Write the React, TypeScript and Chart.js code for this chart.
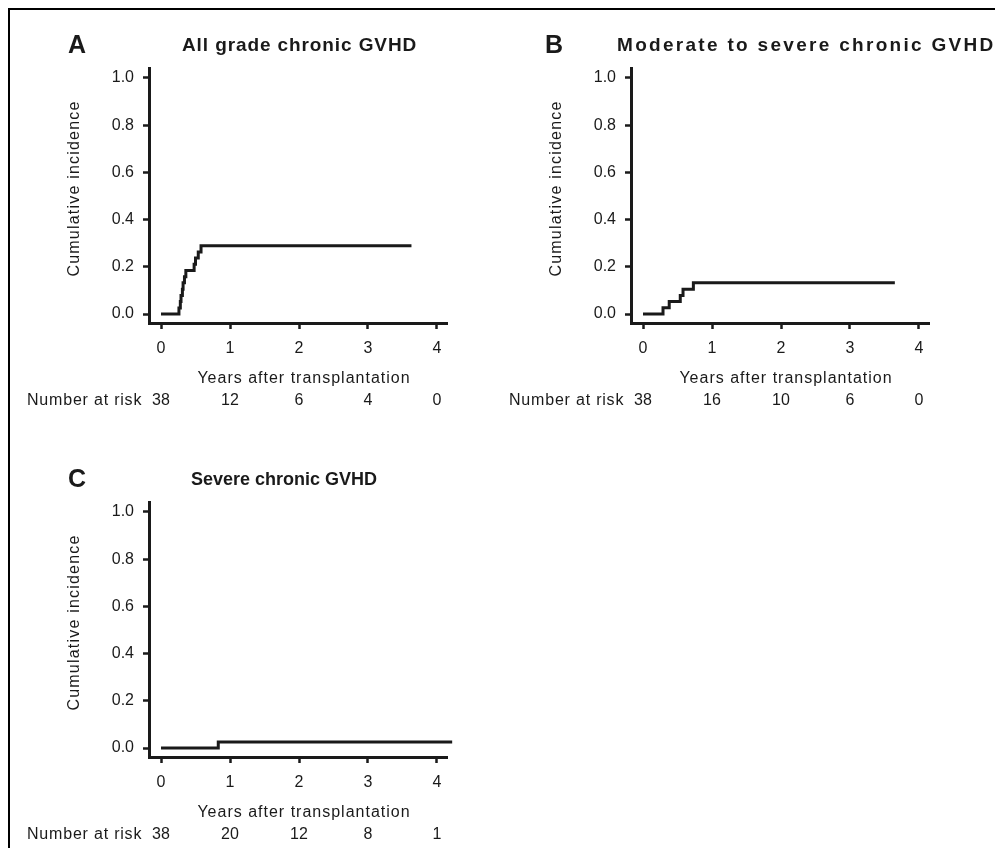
import { useEffect, useRef } from 'react';
import { Chart, registerables } from 'chart.js';

Chart.register(...registerables);

const X_TICKS = [0, 1, 2, 3, 4];
const Y_TICKS = [0, 0.2, 0.4, 0.6, 0.8, 1.0];
const AT_RISK_LABEL = 'Number at risk';
const X_TITLE = 'Years after transplantation';
const Y_TITLE = 'Cumulative incidence';

const A_TIMES = [0, 0.26, 0.28, 0.29, 0.31, 0.32, 0.34, 0.36, 0.48, 0.5, 0.54, 0.58, 3.63];
const A_INCIDENCE = [0, 0.026, 0.053, 0.079, 0.105, 0.132, 0.158, 0.184, 0.211, 0.237, 0.263, 0.289, 0.289];
const A_AT_RISK = [38, 12, 6, 4, 0];

const B_TIMES = [0, 0.29, 0.38, 0.54, 0.58, 0.73, 3.65];
const B_INCIDENCE = [0, 0.027, 0.053, 0.079, 0.105, 0.132, 0.132];
const B_AT_RISK = [38, 16, 10, 6, 0];

const C_TIMES = [0, 0.83, 4.22];
const C_INCIDENCE = [0, 0.026, 0.026];
const C_AT_RISK = [38, 20, 12, 8, 1];

const FONT = "'Liberation Sans', Arial, Helvetica, sans-serif";
const INK = '#1a1a1a';

type PanelSpec = {
  letter: string;
  title: string;
  times: number[];
  incidence: number[];
  atRisk: number[];
  letterX: number;
  titleX: number;
  titleSize: number;
  titleSpacing: number;
};

const PANELS: { spec: PanelSpec; left: number; top: number; width: number }[] = [
  {
    spec: { letter: 'A', title: 'All grade chronic GVHD', times: A_TIMES, incidence: A_INCIDENCE, atRisk: A_AT_RISK, letterX: 58, titleX: 172, titleSize: 19, titleSpacing: 0.9 },
    left: 0,
    top: 0,
    width: 480,
  },
  {
    spec: { letter: 'B', title: 'Moderate to severe chronic GVHD', times: B_TIMES, incidence: B_INCIDENCE, atRisk: B_AT_RISK, letterX: 53, titleX: 125, titleSize: 19, titleSpacing: 2.3 },
    left: 482,
    top: 0,
    width: 509,
  },
  {
    spec: { letter: 'C', title: 'Severe chronic GVHD', times: C_TIMES, incidence: C_INCIDENCE, atRisk: C_AT_RISK, letterX: 58, titleX: 181, titleSize: 18, titleSpacing: 0 },
    left: 0,
    top: 434,
    width: 480,
  },
];

const PLOT_RIGHT = 437;
const CANVAS_H = 404;

function Panel({ spec, left, top, width }: { spec: PanelSpec; left: number; top: number; width: number }) {
  const ref = useRef<HTMLCanvasElement>(null);
  useEffect(() => {
    const canvas = ref.current;
    if (!canvas) return;
    const overlay = {
      id: 'overlay',
      afterDraw(chart: any) {
        const ctx = chart.ctx as CanvasRenderingContext2D & { letterSpacing?: string };
        const xs = chart.scales.x;
        ctx.save();
        ctx.fillStyle = INK;
        ctx.textBaseline = 'middle';
        ctx.textAlign = 'left';
        ctx.font = `bold 25px ${FONT}`;
        ctx.letterSpacing = '0px';
        ctx.fillText(spec.letter, spec.letterX, 36);
        ctx.font = `bold ${spec.titleSize}px ${FONT}`;
        ctx.letterSpacing = `${spec.titleSpacing}px`;
        ctx.fillText(spec.title, spec.titleX, 36);

        // y axis title
        ctx.font = `16px ${FONT}`;
        ctx.letterSpacing = '1.2px';
        ctx.save();
        ctx.translate(65, 178.5);
        ctx.rotate(-Math.PI / 2);
        ctx.textAlign = 'center';
        ctx.fillText(Y_TITLE, 0, 0);
        ctx.restore();

        // x axis title
        ctx.textAlign = 'center';
        ctx.letterSpacing = '1px';
        ctx.fillText(X_TITLE, 294, 369);

        // number at risk
        ctx.textAlign = 'left';
        ctx.letterSpacing = '0.8px';
        ctx.fillText(AT_RISK_LABEL, 17, 391);
        ctx.letterSpacing = '0px';
        ctx.textAlign = 'center';
        spec.atRisk.forEach((n, i) => {
          ctx.fillText(String(n), xs.getPixelForValue(X_TICKS[i]), 391);
        });
        ctx.restore();
      },
    };
    const axisCommon = {
      type: 'linear' as const,
      grid: { drawOnChartArea: false, drawTicks: true, tickLength: 6, tickWidth: 2.5, tickColor: INK },
      border: { display: true, color: INK, width: 3 },
    };
    const chart = new Chart(canvas, {
      type: 'line',
      data: {
        datasets: [
          {
            data: spec.times.map((t, i) => ({ x: t, y: spec.incidence[i] })),
            borderColor: INK,
            borderWidth: 3,
            pointRadius: 0,
            stepped: 'before',
            fill: false,
            clip: false as any,
            borderCapStyle: 'butt',
            borderJoinStyle: 'miter',
          },
        ],
      },
      options: {
        responsive: false,
        animation: false,
        devicePixelRatio: 1,
        layout: { padding: { left: 50, top: 58, right: width - PLOT_RIGHT, bottom: CANVAS_H - 313 - 70 } },
        plugins: { legend: { display: false }, tooltip: { enabled: false }, title: { display: false } },
        scales: {
          x: {
            ...axisCommon,
            min: -0.174,
            max: 4.145,
            afterBuildTicks: (s: any) => {
              s.ticks = X_TICKS.map((v) => ({ value: v }));
            },
            afterFit: (s: any) => {
              s.height = 70;
            },
            ticks: {
              padding: 10,
              color: INK,
              font: { size: 16, family: FONT },
              autoSkip: false,
              maxRotation: 0,
              callback: (v: any) => String(v),
            },
          },
          y: {
            ...axisCommon,
            min: -0.038,
            max: 1.042,
            afterBuildTicks: (s: any) => {
              s.ticks = Y_TICKS.map((v) => ({ value: v }));
            },
            afterFit: (s: any) => {
              s.width = 89;
            },
            ticks: {
              padding: 9,
              color: INK,
              font: { size: 16, family: FONT },
              autoSkip: false,
              callback: (v: any) => Number(v).toFixed(1),
            },
          },
        },
      } as any,
      plugins: [overlay],
    });
    return () => chart.destroy();
  }, [spec, width]);
  return (
    <canvas
      ref={ref}
      width={width}
      height={CANVAS_H}
      style={{ position: 'absolute', left, top, width, height: CANVAS_H }}
    />
  );
}

export default function App() {
  return (
    <div
      style={{
        position: 'relative',
        width: 991,
        height: 838,
        borderTop: '2px solid #000',
        borderLeft: '2px solid #000',
        overflow: 'hidden',
        background: '#fff',
      }}
    >
      {PANELS.map((p) => (
        <Panel key={p.spec.letter} spec={p.spec} left={p.left} top={p.top} width={p.width} />
      ))}
    </div>
  );
}
